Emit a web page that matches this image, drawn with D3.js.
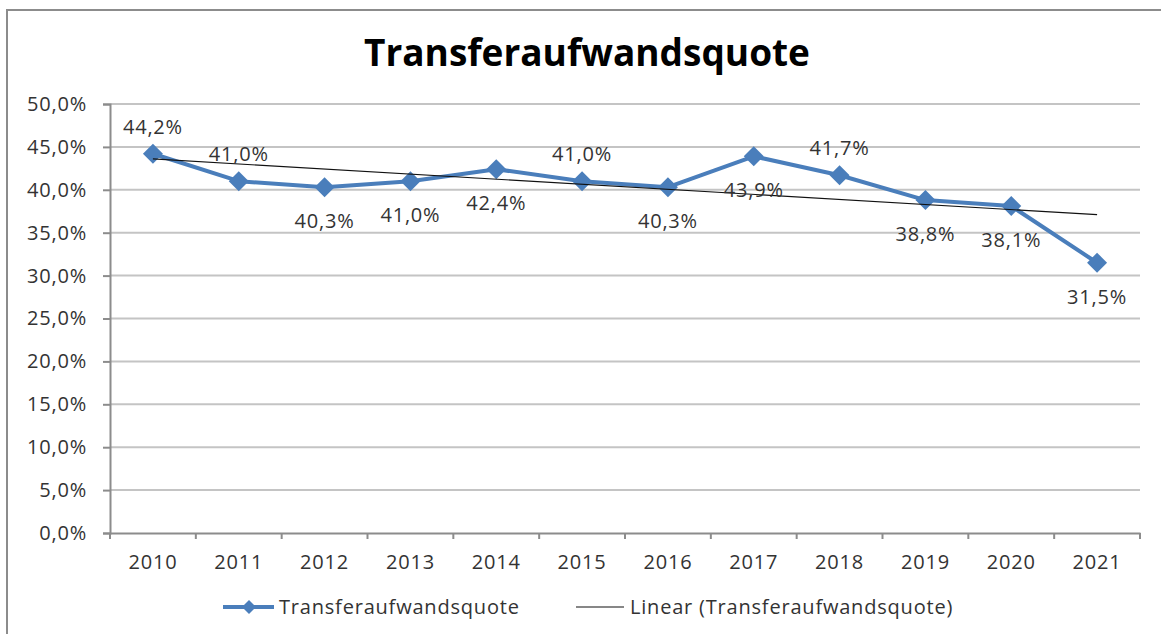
<!DOCTYPE html>
<html>
<head>
<meta charset="utf-8">
<script src="https://cdn.jsdelivr.net/npm/d3@7"></script>
<style>
  body { margin: 0; background: #fff; }
  svg text { font-family: "Open Sans", "Noto Sans", sans-serif; fill: #333; }
</style>
</head>
<body>
<svg id="chart" width="1161" height="634"></svg>
<script>
/* DATA */
var years = ["2010","2011","2012","2013","2014","2015","2016","2017","2018","2019","2020","2021"];
var quote = [44.2, 41.0, 40.3, 41.0, 42.4, 41.0, 40.3, 43.9, 41.7, 38.8, 38.1, 31.5];
var labelSide = ["t","t","b","b","b","t","b","b","t","b","b","b"];
var yTicks = [0, 5, 10, 15, 20, 25, 30, 35, 40, 45, 50];
var seriesName = "Transferaufwandsquote";
var trendName = "Linear (Transferaufwandsquote)";

var svg = d3.select('#chart');
var blue = "#4a7ebb";
var fmt = function(v){ return d3.format(".1f")(v).replace(".", ",") + "%"; };

/* FRAME */
svg.append("rect")
  .attr("x", 7).attr("y", 10)
  .attr("width", 1170).attr("height", 640)
  .attr("fill", "none")
  .attr("stroke", "#8c8c8c")
  .attr("stroke-width", 2);

svg.append("text")
  .attr("x", 587).attr("y", 66)
  .attr("text-anchor", "middle")
  .style("font-size", "37px")
  .style("font-weight", "bold")
  .style("fill", "#000")
  .text(seriesName);

/* SCALES */
var x = d3.scaleBand().domain(years).range([110, 1140]);
var y = d3.scaleLinear().domain([0, 50]).range([533, 104]);
var cx = function(d){ return x(d) + x.bandwidth()/2; };

/* GRID */
svg.append("g").selectAll("line")
  .data(yTicks.filter(function(t){ return t > 0; }))
  .join("line")
  .attr("x1", 110).attr("x2", 1140)
  .attr("y1", function(d){ return y(d); })
  .attr("y2", function(d){ return y(d); })
  .attr("stroke", "#c4c4c4")
  .attr("stroke-width", 2);

/* AXES */
var yAxis = svg.append("g")
  .attr("transform", "translate(110,0)")
  .call(d3.axisLeft(y).tickValues(yTicks).tickSize(7).tickPadding(16)
    .tickFormat(function(d){ return fmt(d); }));
var xAxis = svg.append("g")
  .attr("transform", "translate(0,533)")
  .call(d3.axisBottom(x).tickSize(0).tickPadding(22));
xAxis.selectAll("line.sep")
  .data(d3.range(years.length + 1))
  .join("line")
  .attr("class", "sep")
  .attr("x1", function(i){ return 110 + i*x.bandwidth(); })
  .attr("x2", function(i){ return 110 + i*x.bandwidth(); })
  .attr("y1", 0).attr("y2", 6);
[yAxis, xAxis].forEach(function(g){
  g.select(".domain").attr("stroke", "#8c8c8c").attr("stroke-width", 2);
  g.selectAll("line").attr("stroke", "#8c8c8c").attr("stroke-width", 2);
  g.selectAll("text").style("font-size", "20px").style("letter-spacing", "0.8px")
    .style("fill", "#333").attr("font-family", null);
});

/* TREND */
var xs = d3.range(quote.length);
var mx = d3.mean(xs), my = d3.mean(quote);
var slope = d3.sum(xs, function(i){ return (i-mx)*(quote[i]-my); }) /
            d3.sum(xs, function(i){ return (i-mx)*(i-mx); });
var icpt = my - slope*mx;

/* SERIES */
var line = d3.line()
  .x(function(d, i){ return cx(years[i]); })
  .y(function(d){ return y(d); });
svg.append("path")
  .datum(quote)
  .attr("d", line)
  .attr("fill", "none")
  .attr("stroke", blue)
  .attr("stroke-width", 4)
  .attr("stroke-linejoin", "round");

svg.append("g").selectAll("path")
  .data(quote)
  .join("path")
  .attr("transform", function(d, i){ return "translate(" + cx(years[i]) + "," + y(d) + ")"; })
  .attr("d", "M0,-10L10,0L0,10L-10,0Z")
  .attr("fill", blue);

svg.append("line")
  .attr("x1", cx(years[0])).attr("y1", y(icpt))
  .attr("x2", cx(years[years.length-1])).attr("y2", y(icpt + slope*(years.length-1)))
  .attr("stroke", "#111")
  .attr("stroke-width", 1.2);

svg.append("g").selectAll("text")
  .data(quote)
  .join("text")
  .attr("x", function(d, i){ return cx(years[i]); })
  .attr("y", function(d, i){ return y(d) + (labelSide[i] == "t" ? -20 : 41); })
  .attr("text-anchor", "middle")
  .style("font-size", "20px")
  .style("letter-spacing", "0.8px")
  .text(function(d){ return fmt(d); });

/* LEGEND */
var lg = svg.append("g").attr("transform", "translate(0,607)");
lg.append("line").attr("x1", 223).attr("x2", 274).attr("stroke", blue).attr("stroke-width", 4);
lg.append("path").attr("d", "M249,-7L256,0L249,7L242,0Z").attr("fill", blue);
lg.append("text").attr("x", 279).attr("y", 7).style("font-size", "20px").style("letter-spacing", "0.8px").text(seriesName);
lg.append("line").attr("x1", 576).attr("x2", 624).attr("stroke", "#111").attr("stroke-width", 1.2);
lg.append("text").attr("x", 630).attr("y", 7).style("font-size", "20px").style("letter-spacing", "0.8px").text(trendName);
</script>
</body>
</html>
